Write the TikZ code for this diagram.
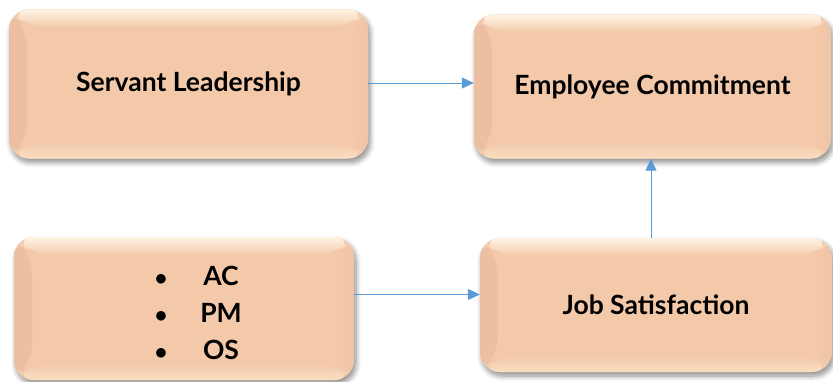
\documentclass[tikz,border=0pt]{standalone}
\usepackage{fontspec}
\setmainfont{Lato}
\usetikzlibrary{arrows.meta,shadows.blur}

\definecolor{peach}{RGB}{243,201,170}
\definecolor{peachL}{RGB}{255,244,228}
\definecolor{peachD}{RGB}{236,190,162}
\definecolor{peachE}{RGB}{240,197,167}
\definecolor{peachB}{RGB}{250,222,194}
\definecolor{linkblue}{RGB}{91,155,213}

\tikzset{
  panel/.style={
    rounded corners=20pt, inner sep=0pt, fill=peach,
    blur shadow={shadow xshift=2pt, shadow yshift=-4pt, shadow blur steps=8,
                 shadow blur radius=5pt, shadow opacity=45},
    font=\fontsize{26.5}{31}\selectfont\bfseries,
    path picture={
      % bevelled rim: left, right, bottom, then the top highlight
      \shade[left color=peachD, right color=peach]
        (path picture bounding box.north west) --
        ([xshift=18pt,yshift=-18pt]path picture bounding box.north west) --
        ([xshift=18pt,yshift=16pt]path picture bounding box.south west) --
        (path picture bounding box.south west) -- cycle;
      \shade[left color=peach, right color=peachE]
        (path picture bounding box.north east) --
        ([xshift=-18pt,yshift=-18pt]path picture bounding box.north east) --
        ([xshift=-18pt,yshift=16pt]path picture bounding box.south east) --
        (path picture bounding box.south east) -- cycle;
      \shade[top color=peach, bottom color=peachB]
        (path picture bounding box.south west) --
        ([xshift=18pt,yshift=16pt]path picture bounding box.south west) --
        ([xshift=-18pt,yshift=16pt]path picture bounding box.south east) --
        (path picture bounding box.south east) -- cycle;
      \shade[top color=peachL, bottom color=peach]
        (path picture bounding box.north west) --
        ([xshift=18pt,yshift=-18pt]path picture bounding box.north west) --
        ([xshift=-18pt,yshift=-18pt]path picture bounding box.north east) --
        (path picture bounding box.north east) -- cycle;
    }
  },
  link/.style={draw=linkblue, line width=1pt,
    -{Triangle[length=12pt,width=11pt]}},
  listtext/.style={font=\fontsize{26.5}{31}\selectfont\bfseries, inner sep=0pt}
}

\begin{document}
\begin{tikzpicture}[x=1pt,y=-1pt]
  \useasboundingbox (0,0) rectangle (833,381);

  \node[panel, minimum width=359pt, minimum height=149pt] (b1) at (188.5,84) {Servant Leadership};
  \node[panel, minimum width=357pt, minimum height=144pt] (b2) at (652.5,86.5) {Employee Commitment};
  \node[panel, minimum width=340pt, minimum height=143pt] (b3) at (184,308.5) {};
  \node[panel, minimum width=352pt, minimum height=134pt] (b4) at (656,305) {Job Satisfaction};

  \node[listtext] (items) at (201,316) {%
    \begin{tabular}{@{}c@{\hspace{20pt}}c@{}}
      \makebox[20pt]{$\bullet$} & \makebox[60pt]{AC} \\[6pt]
      \makebox[20pt]{$\bullet$} & \makebox[60pt]{PM} \\[6pt]
      \makebox[20pt]{$\bullet$} & \makebox[60pt]{OS}
    \end{tabular}};

  \draw[link] ([yshift=1pt]b1.east) -- ([yshift=1pt]b1.east -| b2.west);
  \draw[link] ([yshift=14pt]b3.east) -- ([yshift=14pt]b3.east -| b4.west);
  \draw[link] ([xshift=-5pt]b4.north) -- ([xshift=-5pt]b4.north |- b2.south);
\end{tikzpicture}
\end{document}
